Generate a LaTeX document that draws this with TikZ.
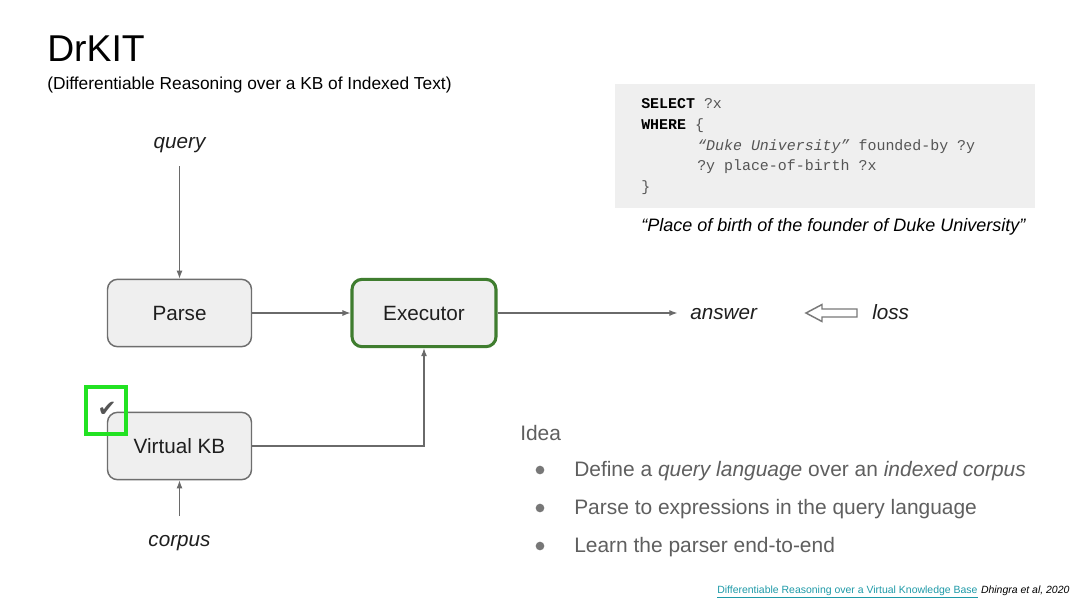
\documentclass[tikz,border=0pt]{standalone}
\usepackage{fontspec}
\setmainfont{Liberation Sans}
\setmonofont{Liberation Mono}
\newfontfamily\symfont{DejaVu Sans}
\usetikzlibrary{arrows.meta}
\definecolor{boxfill}{HTML}{EFEFEF}
\definecolor{boxdraw}{HTML}{6E6E6E}
\definecolor{execgreen}{HTML}{3F7D2F}
\definecolor{brightgreen}{HTML}{22E222}
\definecolor{linegray}{HTML}{6A6A6A}
\definecolor{textgray}{HTML}{5F5F5F}
\definecolor{codegray}{HTML}{555555}
\definecolor{linkcolor}{HTML}{1E9AA8}
\definecolor{txt}{HTML}{1F1F1F}
\begin{document}
\begin{tikzpicture}[x=0.75pt,y=-0.75pt,
  procbox/.style={draw=boxdraw,fill=boxfill,line width=1.1pt,rounded corners=7.5pt,
    minimum width=108pt,minimum height=50.5pt,inner sep=0pt,
    font=\fontsize{15.5}{18}\selectfont,text=txt},
  lbl/.style={inner sep=0pt,font=\fontsize{15.5}{18}\selectfont\itshape,text=txt},
  conn/.style={draw=linegray,line width=0.8pt,-{Latex[length=6pt,width=4.5pt]}},
  codeline/.style={anchor=base west,inner sep=0pt,font=\ttfamily\fontsize{11.2}{12}\selectfont,text=codegray},
  idea/.style={anchor=base west,inner sep=0pt,font=\fontsize{15.7}{18}\selectfont,text=textgray},
  dot/.style={circle,fill=textgray!85,inner sep=0pt,minimum size=6.5pt}
]
\useasboundingbox (0,0) rectangle (1080,608);
\fill[white] (0,0) rectangle (1080,608);

% title
\node[anchor=base west,inner sep=0pt,font=\fontsize{28}{32}\selectfont,text=black] (title) at (47,61) {DrKIT};
\node[anchor=base west,inner sep=0pt,font=\fontsize{13}{15}\selectfont,text=black] (subtitle) at (47,89) {(Differentiable Reasoning over a KB of Indexed Text)};

% code box
\fill[boxfill] (615,84) rectangle (1035,208);
\node[codeline] (c1) at (641,108.5) {\textbf{\color{black}SELECT} ?x};
\node[codeline] (c2) at (641,129.5) {\textbf{\color{black}WHERE} \{};
\node[codeline] (c3) at (697,150) {\textit{“Duke University”} founded-by ?y};
\node[codeline] (c4) at (697,170.5) {?y place-of-birth ?x};
\node[codeline] (c5) at (641,191) {\}};
\node[anchor=base west,inner sep=0pt,font=\fontsize{13.5}{16}\selectfont\itshape,text=black] (caption) at (641,231) {“Place of birth of the founder of Duke University”};

% diagram
\node[lbl,anchor=base] (query) at (179.5,148) {query};
\coordinate (qstart) at (179.5,166);
\node[procbox] (parse) at (179.5,313) {Parse};
\node[procbox,draw=execgreen,line width=2.3pt] (exec) at (424,313) {Executor};
\node[procbox] (vkb) at (179.5,446) {Virtual KB};
\node[lbl,anchor=base west] (answer) at (690,319) {answer};
\node[lbl,anchor=base west] (loss) at (872,319.5) {loss};
\node[lbl,anchor=base] (corpus) at (179.5,546) {corpus};
\coordinate (cstart) at (179.5,516);

\draw[conn] (qstart) -- (parse.north);
\draw[conn] (parse.east) -- (exec.west);
\draw[conn,shorten >=9.5pt] (exec.east) -- (exec.east -| answer.west);
\draw[conn] (vkb.east) -| (exec.south);
\draw[conn] (cstart) -- (vkb.south);

% hollow arrow toward answer
\draw[draw=linegray!90,line width=1.1pt,fill=white,line join=miter]
  (806,313) -- (822,304.5) -- (822,309) -- (857,309) -- (857,317) -- (822,317) -- (822,321.5) -- cycle;

% check mark square
\node[inner sep=0pt,font=\symfont\fontsize{17}{19}\selectfont,text=codegray] (check) at (107,409) {✔};
\draw[brightgreen,line width=2.3pt] (86,387) rectangle (126,434);

% idea list
\node[idea] (ideahead) at (520,440) {Idea};
\node[dot] (b1) at (540,470) {};
\node[dot] (b2) at (540,508) {};
\node[dot] (b3) at (540,546) {};
\node[idea] (t1) at (574,476.5) {Define a \textit{query language} over an \textit{indexed corpus}};
\node[idea] (t2) at (574,514.5) {Parse to expressions in the query language};
\node[idea] (t3) at (574,552.5) {Learn the parser end-to-end};

% footer
\node[anchor=base west,inner sep=0pt,font=\fontsize{7.85}{9}\selectfont,text=linkcolor] (link) at (717,593)
  {\underline{Differentiable Reasoning over a Virtual Knowledge Base}};
\node[anchor=base west,inner sep=0pt,font=\fontsize{7.85}{9}\selectfont\itshape,text=black] (cite) at (link.base east) {\ Dhingra et al, 2020};
\end{tikzpicture}
\end{document}
